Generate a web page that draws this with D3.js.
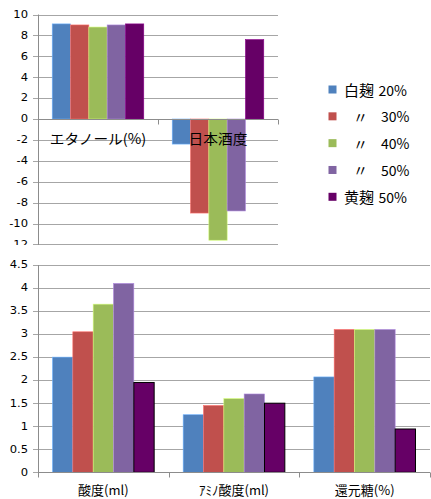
<!DOCTYPE html>
<html>
<head>
<meta charset="utf-8">
<script src="https://cdn.jsdelivr.net/npm/d3@7"></script>
<style>
  html, body { margin: 0; padding: 0; background: #fff; }
  svg { display: block; }
  text { font-family: "Noto Sans CJK JP", "DejaVu Sans", sans-serif; fill: #000; }
  .tick-label { font-family: "DejaVu Sans", sans-serif; font-size: 10.5px; }
</style>
</head>
<body>
<svg id="chart" width="431" height="499"></svg>
<script>
// Series (koji type / ratio)
const seriesNames = ["白麹 20%", "〃 30%", "〃 40%", "〃 50%", "黄麹 50%"];
const legendNames = ["白麹", "〃", "〃", "〃", "黄麹"];
const legendPcts = ["20%", "30%", "40%", "50%", "50%"];
const seriesColors = ["#4F81BD", "#C0504D", "#9BBB59", "#8064A2", "#660066"];

// Upper panel: ethanol and sake meter value
const topCategories = ["エタノール(%)", "日本酒度"];
const topShiro20 = [9.1, -2.4];
const topShiro30 = [9.0, -9.0];
const topShiro40 = [8.8, -11.6];
const topShiro50 = [9.0, -8.8];
const topKi50 = [9.1, 7.6];
const topTicks = [10, 8, 6, 4, 2, 0, -2, -4, -6, -8, -10, -12];

// Lower panel: acidity, amino acidity, reducing sugar
const bottomCategories = ["酸度(ml)", "ｱﾐﾉ酸度(ml)", "還元糖(%)"];
const botShiro20 = [2.5, 1.25, 2.07];
const botShiro30 = [3.05, 1.45, 3.1];
const botShiro40 = [3.65, 1.6, 3.1];
const botShiro50 = [4.1, 1.7, 3.1];
const botKi50 = [1.95, 1.5, 0.94];
const bottomTicks = [0, 0.5, 1, 1.5, 2, 2.5, 3, 3.5, 4, 4.5];

const topSeries = [topShiro20, topShiro30, topShiro40, topShiro50, topKi50];
const botSeries = [botShiro20, botShiro30, botShiro40, botShiro50, botKi50];

const svg = d3.select("#chart");
const gridColor = "#A6A6A6";
const axisColor = "#8C8C8C";

function drawPanel(opts) {
  const g = svg.append("g");
  if (opts.clipBottom) {
    svg.append("clipPath").attr("id", opts.id + "-clip")
      .append("rect").attr("x", 0).attr("y", 0).attr("width", 431).attr("height", opts.clipBottom);
    g.attr("clip-path", `url(#${opts.id}-clip)`);
  }
  const { x, y, categories, series, ticks } = opts;
  const x1 = d3.scaleBand().domain(d3.range(series.length)).range([0, x.bandwidth()]);
  const [left, right] = x.range();

  // gridlines + y tick marks
  g.append("g").selectAll("line").data(ticks).join("line")
    .attr("x1", left - 5).attr("x2", right)
    .attr("y1", d => Math.round(y(d)) + 0.5).attr("y2", d => Math.round(y(d)) + 0.5)
    .attr("stroke", gridColor).attr("stroke-width", 1);

  // y tick labels
  g.append("g").selectAll("text").data(ticks).join("text")
    .attr("class", "tick-label")
    .attr("text-anchor", "end")
    .attr("dominant-baseline", "central")
    .attr("transform", d => `translate(28,${y(d)}) scale(1.1,1)`)
    .text(d => d);

  // vertical axis
  g.append("line")
    .attr("x1", left + 0.5).attr("x2", left + 0.5)
    .attr("y1", y(d3.max(ticks)))
    .attr("y2", opts.axisBottom)
    .attr("stroke", axisColor);

  // bars
  series.forEach((vals, si) => {
    const outlined = opts.outlineLast && si === series.length - 1;
    g.append("g").selectAll("rect").data(vals).join("rect")
      .attr("x", (d, ci) => x(categories[ci]) + x1(si))
      .attr("width", x1.bandwidth())
      .attr("y", d => Math.min(y(0), y(d)))
      .attr("height", d => Math.abs(y(d) - y(0)))
      .attr("fill", seriesColors[si])
      .attr("stroke", outlined ? "#000" : d3.color(seriesColors[si]).brighter(0.9))
      .attr("stroke-width", outlined ? 1 : 0.6);
  });

  // category axis (at zero) with tick marks between categories
  const y0 = Math.round(y(0)) + 0.5;
  g.append("line").attr("x1", left).attr("x2", right).attr("y1", y0).attr("y2", y0)
    .attr("stroke", axisColor);
  const bounds = [left, ...categories.slice(1).map(c => x(c) - x.step() * x.paddingInner() / 2), right];
  g.append("g").selectAll("line").data(bounds).join("line")
    .attr("x1", d => Math.round(d) + 0.5).attr("x2", d => Math.round(d) + 0.5)
    .attr("y1", y0).attr("y2", y0 + 5)
    .attr("stroke", axisColor);

  // category labels
  g.append("g").selectAll("text").data(categories).join("text")
    .attr("text-anchor", "middle")
    .attr("font-size", opts.labelSize)
    .attr("transform", c => `translate(${x(c) + x.bandwidth() / 2},${opts.labelY}) scale(${opts.labelStretch},1)`)
    .text(c => c);
}

// Upper panel
const xTop = d3.scaleBand().domain(topCategories).range([38, 278]).paddingInner(0.237).paddingOuter(0.1185);
const yTop = d3.scaleLinear().domain([-12, 10]).range([244.4, 14.5]);
drawPanel({
  id: "top", x: xTop, y: yTop, categories: topCategories, series: topSeries,
  ticks: topTicks, axisBottom: 250, clipBottom: 245,
  labelY: 144, labelSize: "14px", labelStretch: 1.05, outlineLast: false
});

// Lower panel
const xBot = d3.scaleBand().domain(bottomCategories).range([38, 430]).paddingInner(0.222).paddingOuter(0.111);
const yBot = d3.scaleLinear().domain([0, 4.5]).range([472.3, 265]);
drawPanel({
  id: "bot", x: xBot, y: yBot, categories: bottomCategories, series: botSeries,
  ticks: bottomTicks, axisBottom: 477,
  labelY: 495, labelSize: "13px", labelStretch: 1.0, outlineLast: true
});

// Legend
const legend = svg.append("g");
const legendY = d3.scaleLinear().domain([0, seriesNames.length - 1]).range([89.5, 196.8]);
seriesNames.forEach((name, i) => {
  const row = legend.append("g").attr("transform", `translate(0,${legendY(i)})`);
  row.append("rect").attr("x", 328.5).attr("y", -4).attr("width", 8).attr("height", 8)
    .attr("fill", seriesColors[i]);
  const ditto = legendNames[i] === "〃";
  row.append("text")
    .attr("x", ditto ? 360.5 : 344).attr("text-anchor", ditto ? "middle" : "start")
    .attr("dominant-baseline", "central").attr("font-size", "15px")
    .text(legendNames[i]);
  row.append("text")
    .attr("x", ditto ? 381 : 378.5)
    .attr("dominant-baseline", "central").attr("font-size", "14px")
    .text(legendPcts[i]);
});
</script>
</body>
</html>
